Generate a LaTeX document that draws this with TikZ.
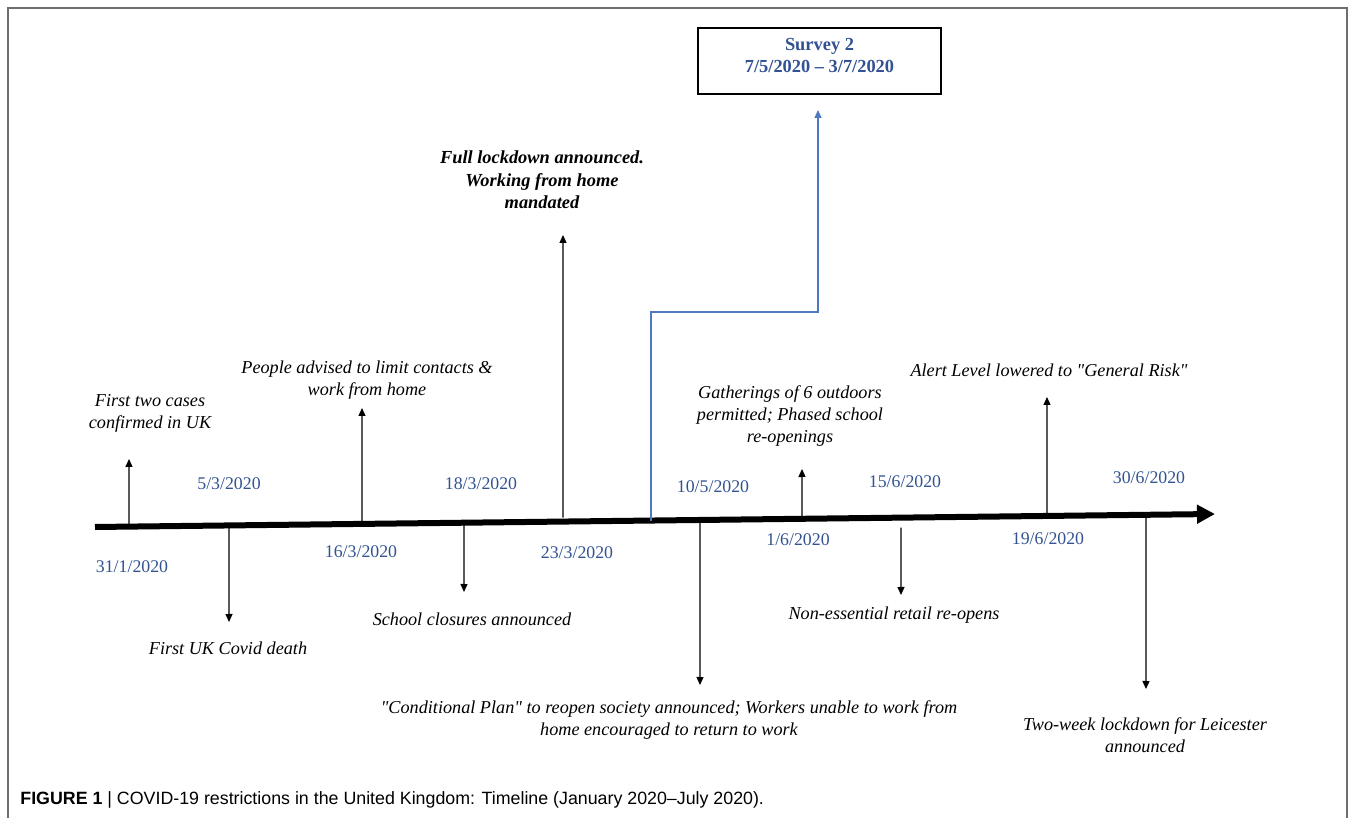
\documentclass[tikz,border=0pt]{standalone}
\usepackage{fontspec}
\setmainfont{Liberation Serif}[Ligatures=TeXOff]
\setsansfont{Liberation Sans}
\usepackage{tikz}
\usetikzlibrary{calc, arrows.meta, positioning}
\definecolor{dateblue}{RGB}{50,82,145}
\definecolor{linkblue}{RGB}{80,120,190}
\definecolor{framegray}{RGB}{110,110,110}
\tikzset{
    event/.style = {inner sep=0pt, align=center, font=\fontsize{9.1}{11}\selectfont\itshape},
    event bold/.style = {event, font=\fontsize{9.2}{11.2}\selectfont\bfseries\itshape},
    date label/.style = {inner sep=0pt, text=dateblue, font=\fontsize{8.9}{11}\selectfont},
    time line/.style = {line width=3pt, -{Triangle[length=9pt, width=9pt]}},
    event arrow/.style = {line width=0.6pt, -{Triangle[length=4pt, width=3.5pt]}},
    survey link/.style = {draw=linkblue, line width=0.6pt, -{Triangle[length=4pt, width=3.5pt]}},
    survey box/.style = {rectangle, draw, line width=0.6pt, minimum width=121.5pt, minimum height=33pt, align=center, text depth=6pt, text=dateblue, font=\fontsize{9.2}{11}\selectfont\bfseries},
    caption/.style = {inner sep=0pt, anchor=west, font=\sffamily\fontsize{8.9}{10}\selectfont}
}

\begin{document}
\begin{tikzpicture}[x=0.5pt, y=-0.5pt]
        \useasboundingbox (0,0) rectangle (1357,818);
        \draw[framegray, line width=0.9pt] (8,818) -- (8,8) -- (1347,8) -- (1347,818);

        % the time line
        \coordinate (tl start) at (95,527);
        \coordinate (tl end) at (1215,514);
        \draw[time line] (tl start) -- (tl end);

        \coordinate (jan31) at ($(tl start)!0.0304!(tl end)$);
        \coordinate (mar5) at ($(tl start)!0.1196!(tl end)$);
        \coordinate (mar16) at ($(tl start)!0.2384!(tl end)$);
        \coordinate (mar18) at ($(tl start)!0.3295!(tl end)$);
        \coordinate (mar23) at ($(tl start)!0.4179!(tl end)$);
        \coordinate (may7) at ($(tl start)!0.4964!(tl end)$);
        \coordinate (may10) at ($(tl start)!0.5402!(tl end)$);
        \coordinate (jun1) at ($(tl start)!0.6313!(tl end)$);
        \coordinate (jun15) at ($(tl start)!0.7196!(tl end)$);
        \coordinate (jun19) at ($(tl start)!0.85!(tl end)$);
        \coordinate (jun30) at ($(tl start)!0.9384!(tl end)$);

        % dates
        \node[date label] (d jan31) at (132,567) {31/1/2020};
        \node[date label] (d mar5) at (229,484) {5/3/2020};
        \node[date label] (d mar16) at (361,552) {16/3/2020};
        \node[date label] (d mar18) at (481,484) {18/3/2020};
        \node[date label] (d mar23) at (577,553) {23/3/2020};
        \node[date label] (d may10) at (713,487) {10/5/2020};
        \node[date label] (d jun1) at (798,540) {1/6/2020};
        \node[date label] (d jun15) at (905,482) {15/6/2020};
        \node[date label] (d jun19) at (1048,539) {19/6/2020};
        \node[date label] (d jun30) at (1149,478) {30/6/2020};

        % events
        \node[event] (first cases) at (150,413) {First two cases\\confirmed in UK};
        \node[event] (first death) at (228,648) {First UK Covid death};
        \node[event] (advised) at (367,380) {People advised to limit contacts \&\\work from home};
        \node[event] (schools) at (472,619) {School closures announced};
        \node[event bold] (lockdown) at (542,180) {Full lockdown announced.\\Working from home\\mandated};
        \node[event] (plan) at (669,720) {"Conditional Plan" to reopen society announced; Workers unable to work from\\home encouraged to return to work};
        \node[event] (gatherings) at (790,416) {Gatherings of 6 outdoors\\permitted; Phased school\\re-openings};
        \node[event] (retail) at (894,615) {Non-essential retail re-opens};
        \node[event] (alert) at (1049,370) {Alert Level lowered to "General Risk"};
        \node[event] (leicester) at (1145,735) {Two-week lockdown for Leicester\\announced};

        % arrow tips
        \coordinate (jan31 tip) at (129,459);
        \coordinate (mar5 tip) at (229,622);
        \coordinate (mar16 tip) at (362,408);
        \coordinate (mar18 tip) at (464,592);
        \coordinate (mar23 tip) at (563,235);
        \coordinate (may10 tip) at (700,685);
        \coordinate (jun1 tip) at (802,469);
        \coordinate (jun15 tip) at (901,595);
        \coordinate (jun19 tip) at (1047,397);
        \coordinate (jun30 tip) at (1146,689);

        \draw[event arrow] (jan31) -- (jan31 tip);
        \draw[event arrow] (mar5) -- (mar5 tip);
        \draw[event arrow] (mar16) -- (mar16 tip);
        \draw[event arrow] (mar18) -- (mar18 tip);
        \draw[event arrow, shorten <=2pt] (mar23) -- (mar23 tip);
        \draw[event arrow] (may10) -- (may10 tip);
        \draw[event arrow] (jun1) -- (jun1 tip);
        \draw[event arrow, shorten <=5pt] (jun15) -- (jun15 tip);
        \draw[event arrow] (jun19) -- (jun19 tip);
        \draw[event arrow] (jun30) -- (jun30 tip);

        % survey window
        \node[survey box] (survey) at (819.5,61) {Survey 2\\7/5/2020 – 3/7/2020};
        \coordinate (survey bend) at (818,312);
        \coordinate (survey tip) at (818,110);
        \draw[survey link] (may7) |- (survey bend) -- (survey tip);

        \node[caption] (caption) at (20,800) {\textbf{FIGURE 1} | COVID-19 restrictions in the United Kingdom: Timeline (January 2020–July 2020).};
    \end{tikzpicture}
\end{document}
